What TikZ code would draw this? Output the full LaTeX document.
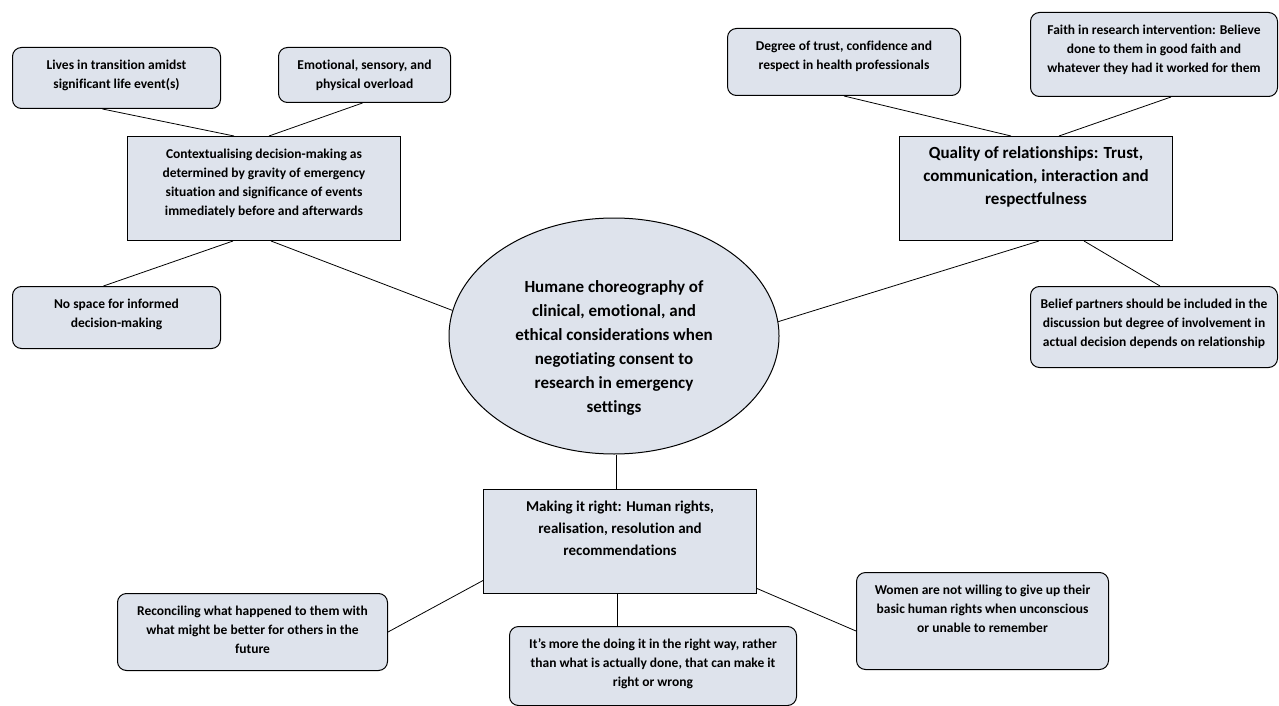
\documentclass[tikz,border=0pt]{standalone}
\usepackage{fontspec}
\setmainfont{Carlito}[Ligatures=NoCommon]
\usetikzlibrary{shapes.geometric}
\definecolor{boxfill}{RGB}{222,227,236}
\newcommand{\cell}[3]{\parbox[t][#2][t]{#1}{\centering\rule{0pt}{22pt}#3}}
\tikzset{
  leaf/.style={draw, line width=1pt, rounded corners=9pt, fill=boxfill, inner sep=0pt, anchor=north west},
  theme/.style={draw, line width=1pt, fill=boxfill, inner sep=0pt, anchor=north west},
  small/.style={font=\bfseries\fontsize{13.5}{19}\selectfont},
  large/.style={font=\bfseries\fontsize{17}{23}\selectfont},
  link/.style={line width=0.8pt}
}
\begin{document}
\begin{tikzpicture}[x=1pt, y=-1pt]
	\useasboundingbox (0,0) rectangle (1279,706);
	% Centre:
	\node[draw, line width=1pt, fill=boxfill, ellipse, minimum width=330pt, minimum height=236pt, inner sep=0pt] (hub) at (614,336) {};
	\node[align=center, font=\bfseries\fontsize{17}{24}\selectfont] (hubtext) at (614,348)
		{Humane choreography of\\clinical, emotional, and\\ethical considerations when\\negotiating consent to\\research in emergency\\settings};
	% Themes:
	\node[theme, small] (context) at (127,136) {\cell{273pt}{104pt}{Contextualising decision-making as\\determined by gravity of emergency\\situation and significance of events\\immediately before and afterwards}};
	\node[theme, large] (quality) at (899,136) {\cell{273pt}{104pt}{Quality of relationships: Trust,\\communication, interaction and\\respectfulness}};
	\node[theme, font=\bfseries\fontsize{15}{22}\selectfont] (making) at (483,489) {\cell{273pt}{104pt}{Making it right: Human rights,\\realisation, resolution and\\recommendations}};
	% Sub-themes:
	\node[leaf, small] (lives) at (12,47) {\cell{208pt}{61pt}{Lives in transition amidst\\significant life event(s)}};
	\node[leaf, small] (overload) at (278,47) {\cell{172pt}{55pt}{Emotional, sensory, and\\physical overload}};
	\node[leaf, small] (nospace) at (12,286) {\cell{208pt}{62pt}{No space for informed\\decision-making}};
	\node[leaf, small] (degree) at (727,28) {\cell{233pt}{67pt}{Degree of trust, confidence and\\respect in health professionals}};
	\node[leaf, small] (faith) at (1030,12) {\cell{247pt}{84pt}{Faith in research intervention: Believe\\done to them in good faith and\\whatever they had it worked for them}};
	\node[leaf, small] (partners) at (1030,286) {\cell{247pt}{81pt}{Belief partners should be included in the\\discussion but degree of involvement in\\actual decision depends on relationship}};
	\node[leaf, small] (reconcile) at (117,593) {\cell{270pt}{77pt}{Reconciling what happened to them with\\what might be better for others in the\\future}};
	\node[leaf, small] (rightway) at (509,626) {\cell{287pt}{79pt}{It’s more the doing it in the right way, rather\\than what is actually done, that can make it\\right or wrong}};
	\node[leaf, small] (women) at (856,572) {\cell{252pt}{97pt}{Women are not willing to give up their\\basic human rights when unconscious\\or unable to remember}};
	% Links:
	\draw[link] ([xshift=-14pt]lives.south) -- ([xshift=-30pt]context.north);
	\draw[link] ([xshift=-2pt]overload.south) -- ([xshift=5pt]context.north);
	\draw[link] ([xshift=-31pt]context.south) -- ([xshift=-13pt]nospace.north);
	\draw[link] ([xshift=7pt]context.south) -- (hub.171);
	\draw[link] (degree.south) -- ([xshift=-25pt]quality.north);
	\draw[link] ([xshift=17pt]faith.south) -- ([xshift=23pt]quality.north);
	\draw[link] ([xshift=3pt]quality.south) -- (hub.5);
	\draw[link] ([xshift=48pt]quality.south) -- ([xshift=6pt]partners.north);
	\draw[link] ([xshift=2pt]hub.south) -- ([xshift=2pt]hub.south |- making.north);
	\draw[link] ([yshift=-39pt]making.west) -- (reconcile.east);
	\draw[link] ([yshift=-47pt]making.east) -- ([yshift=-10pt]women.west);
	\draw[link] ([xshift=-3pt]making.south) -- ([xshift=-3pt]making.south |- rightway.north);
\end{tikzpicture}
\end{document}
